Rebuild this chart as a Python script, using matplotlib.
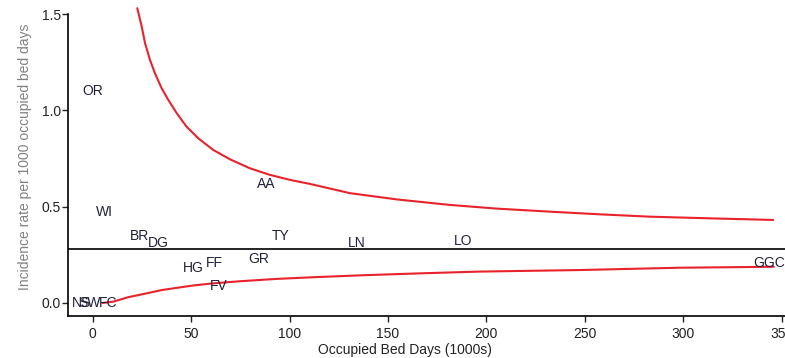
import matplotlib
matplotlib.use("Agg")
import matplotlib.pyplot as plt

plt.rcParams["font.family"] = ["Liberation Sans", "DejaVu Sans"]

# hospital labels: name, occupied bed days (1000s), incidence rate
names = ["OR", "WI", "BR", "DG", "AA", "TY", "LN", "LO", "HG", "FF", "GR", "FV", "GGC", "NS", "SW", "FC"]
bed_days = [0.0, 6.0, 24.0, 33.5, 88.0, 95.5, 134.0, 188.0, 51.0, 62.0, 84.5, 64.0, 343.5, -5.6, -1.5, 7.6]
rates = [1.10, 0.47, 0.35, 0.31, 0.62, 0.35, 0.31, 0.32, 0.18, 0.21, 0.23, 0.09, 0.21, 0.0, 0.0, 0.0]

mean_rate = 0.28

# control limits
upper_x = [22.65, 24.9, 26.6, 29.1, 31.6, 35.0, 38.4, 42.7, 47.7, 53.6, 61.3, 69.7, 79.9, 90.0, 100.2,
           110.4, 130.7, 155.0, 181.5, 205.0, 232.3, 258.0, 283.1, 315.0, 345.7]
upper_y = [1.530, 1.435, 1.348, 1.262, 1.193, 1.115, 1.054, 0.985, 0.915, 0.855, 0.794, 0.746, 0.699, 0.665, 0.639,
           0.618, 0.570, 0.537, 0.509, 0.490, 0.474, 0.460, 0.448, 0.439, 0.431]
lower_x = [5.0, 10.5, 18.0, 27.4, 35.0, 44.3, 52.0, 61.3, 75.0, 93.4, 115.0, 140.0, 170.0, 196.6, 247.4, 298.0, 346.0]
lower_y = [0.0, 0.007, 0.030, 0.050, 0.067, 0.081, 0.092, 0.102, 0.113, 0.125, 0.135, 0.145, 0.155, 0.163, 0.171, 0.183, 0.188]

W, H = 785, 358
fig = plt.figure(figsize=(W / 100, H / 100), dpi=100)
ax = fig.add_axes([68.3 / W, (H - 315.7) / H, (W - 68.3) / W, (315.7 - 14) / H])
ax.set_xlim(-12.4, 351.7)
ax.set_ylim(-0.066, 1.5)

red = "#e8232b"
ax.plot(upper_x, upper_y, color=red, lw=1.5, clip_on=False, solid_capstyle="round")
ax.plot(lower_x, lower_y, color=red, lw=1.5, solid_capstyle="round")
ax.axhline(mean_rate, color="black", lw=1.2)

for n, x, y in zip(names, bed_days, rates):
    ax.text(x, y, n, ha="center", va="center", fontsize=10, color="#20203a", clip_on=False)

for s in ["top", "right"]:
    ax.spines[s].set_visible(False)
for s in ["left", "bottom"]:
    ax.spines[s].set_linewidth(1.2)

ax.set_xticks([0, 50, 100, 150, 200, 250, 300, 350])
ax.set_yticks([0.0, 0.5, 1.0, 1.5])
ax.set_yticklabels(["0.0", "0.5", "1.0", "1.5"])
ax.tick_params(axis="both", direction="out", length=4.5, width=1.0, labelsize=10, colors="#222222")
ax.tick_params(axis="x", pad=3.5)
ax.tick_params(axis="y", pad=1)

fig.text(405 / W, 1 - 350 / H, "Occupied Bed Days (1000s)", ha="center", va="center", fontsize=10, color="#222222")
fig.text(25 / W, 1 - 157 / H, "Incidence rate per 1000 occupied bed days", ha="center", va="center",
         rotation=90, fontsize=10, color="#808080")

fig.savefig("out.png", dpi=100)
